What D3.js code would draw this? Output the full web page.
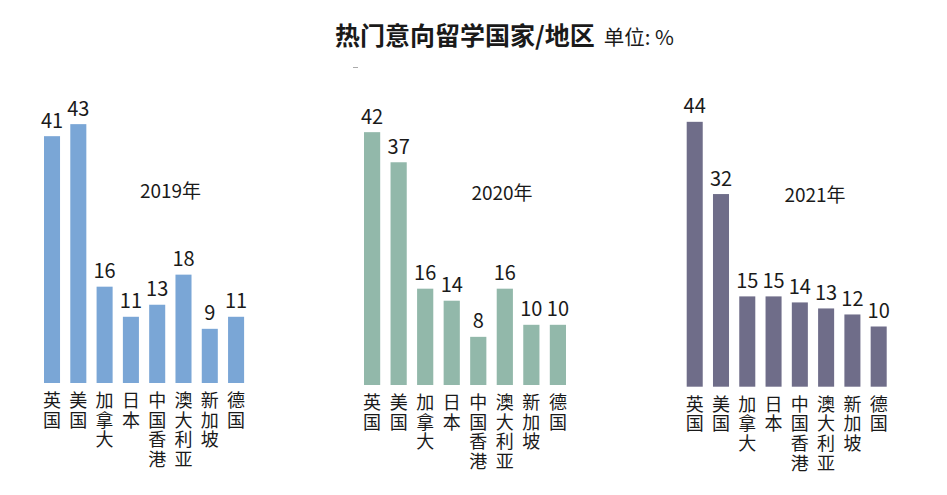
<!DOCTYPE html>
<html><head><meta charset="utf-8">
<script src="https://cdn.jsdelivr.net/npm/d3@7/dist/d3.min.js"></script>
<style>
html,body{margin:0;padding:0;background:#fff;}
svg{display:block;font-family:"Noto Sans CJK SC","Noto Sans",sans-serif;}
</style></head>
<body><svg id="chart" width="947" height="495"></svg>
<script>
const categories = ["英国","美国","加拿大","日本","中国香港","澳大利亚","新加坡","德国"];
const years = ["2019年","2020年","2021年"];
const values2019 = [41,43,16,11,13,18,9,11];
const values2020 = [42,37,16,14,8,16,10,10];
const values2021 = [44,32,15,15,14,13,12,10];
const seriesValues = [values2019, values2020, values2021];
const colors = ["#7aa6d6","#92b8aa","#6f6d89"];

// layout per panel
const panels = [
  {x0:44,   x1:244.1, base:383,   yearX:170.5, yearY:198},
  {x0:364,  x1:566,   base:385,   yearX:502,   yearY:200},
  {x0:686.7,x1:886.7, base:386.7, yearX:815,   yearY:201.5}
];
const pxPerUnit = 6.02;
const svg = d3.select("#chart");
const textColor = "#1a1a1a";

// title
const title = svg.append("text").attr("x",335).attr("y",45).attr("fill",textColor);
title.append("tspan").attr("font-size",25).attr("font-weight",700).text("热门意向留学国家/地区");
title.append("tspan").attr("dx",9).attr("font-size",20.5).attr("font-weight",400).text("单位: %");
svg.append("line").attr("x1",353).attr("x2",358).attr("y1",67.5).attr("y2",67.5)
  .attr("stroke","#aaa").attr("stroke-width",1);

panels.forEach((p,i)=>{
  const vals = seriesValues[i];
  const x = d3.scaleBand().domain(categories).range([p.x0,p.x1]).paddingInner(0.39).paddingOuter(0);
  const y = d3.scaleLinear().domain([0,44]).range([p.base, p.base-44*pxPerUnit]);
  const g = svg.append("g");
  const data = categories.map((c,k)=>({c, v:vals[k]}));
  g.selectAll("rect").data(data).join("rect")
    .attr("x",d=>x(d.c)).attr("width",x.bandwidth())
    .attr("y",d=>y(d.v)).attr("height",d=>y(0)-y(d.v))
    .attr("fill",colors[i]);
  g.selectAll("text.val").data(data).join("text").attr("class","val")
    .attr("x",d=>x(d.c)+x.bandwidth()/2).attr("y",d=>y(d.v)-8.5)
    .attr("text-anchor","middle").attr("font-size",20).attr("fill",textColor)
    .text(d=>d.v);
  g.selectAll("text.cat").data(data).join("text").attr("class","cat")
    .attr("x",d=>x(d.c)+x.bandwidth()/2).attr("y",p.base+8)
    .style("writing-mode","vertical-rl").style("letter-spacing","1.8px")
    .attr("font-size",18).attr("fill",textColor)
    .text(d=>d.c);
  g.append("text").attr("x",p.yearX).attr("y",p.yearY).attr("text-anchor","middle")
    .attr("font-size",19).attr("fill",textColor).text(years[i]);
});
</script></body></html>
